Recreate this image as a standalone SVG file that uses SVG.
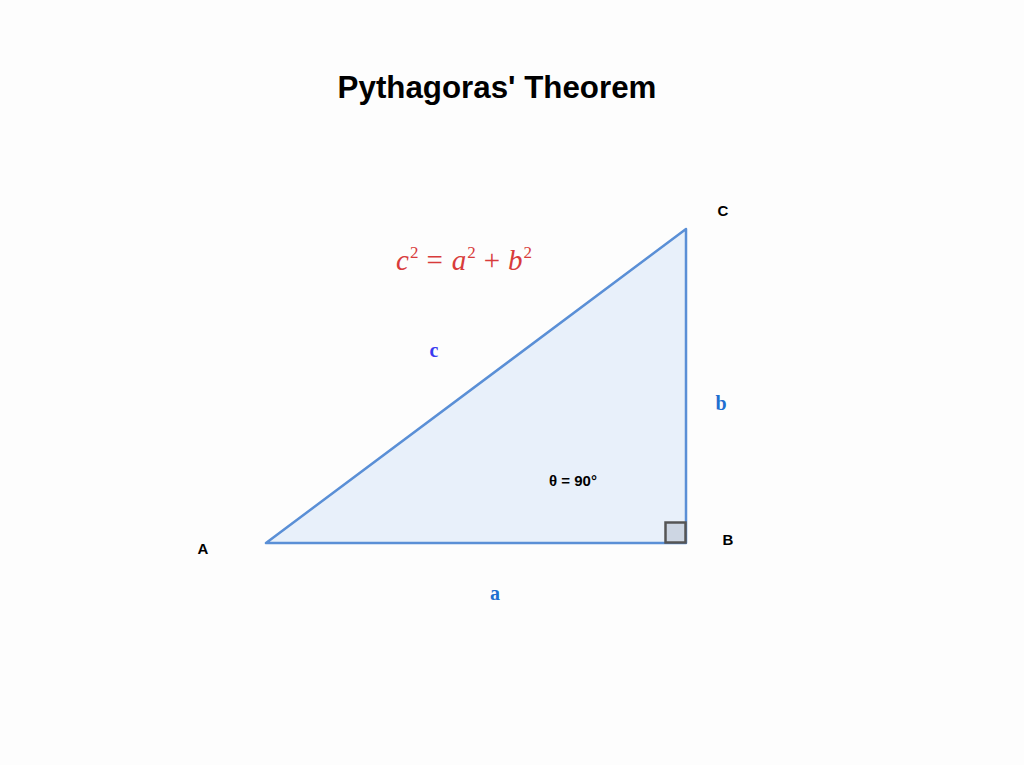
<svg xmlns="http://www.w3.org/2000/svg" width="1024" height="765" viewBox="0 0 1024 765">
<style>
.lbl{font-family:"Liberation Sans",Arial,sans-serif;font-weight:bold;font-size:15px;fill:#000}
.side{font-family:"Liberation Serif","Times New Roman",serif;font-weight:bold;font-size:20px}
.sup{font-size:17px;font-style:normal}
</style>
<rect width="1024" height="765" fill="#fdfdfd"/>
<text x="497" y="98" text-anchor="middle" font-family="Liberation Sans,Arial,sans-serif" font-weight="bold" font-size="31.3" fill="#000">Pythagoras' Theorem</text>
<g id="triangle">
<polygon points="266,543 686,543 686,229" fill="#e8f0fa" stroke="#5a8fd6" stroke-width="2.5" stroke-linejoin="round"/>
</g>
<g id="right-angle">
<rect x="665.5" y="522.5" width="20" height="20" fill="#cdd6e3" stroke="#555" stroke-width="2.5"/>
</g>
<g id="formula">
<text x="396" y="270" font-family="Liberation Serif,Times New Roman,serif" font-style="italic" font-size="29" fill="#d83b3b">c<tspan class="sup" dx="1" dy="-12">2</tspan><tspan font-style="normal" dx="8" dy="12">=</tspan><tspan dx="9">a</tspan><tspan class="sup" dx="1" dy="-12">2</tspan><tspan font-style="normal" dx="8" dy="12">+</tspan><tspan dx="8">b</tspan><tspan class="sup" dx="1" dy="-12">2</tspan></text>
</g>
<g id="labels">
<text class="lbl" x="203" y="554" text-anchor="middle">A</text>
<text class="lbl" x="728" y="545" text-anchor="middle">B</text>
<text class="lbl" x="723" y="216" text-anchor="middle">C</text>
<text class="lbl" x="573" y="486" text-anchor="middle" font-size="15.5">θ = 90°</text>
<text class="side" x="434" y="357" text-anchor="middle" fill="#3a3af0">c</text>
<text class="side" x="721" y="410" text-anchor="middle" fill="#1f6fd0">b</text>
<text class="side" x="495" y="600" text-anchor="middle" fill="#1f6fd0">a</text>
</g>
</svg>
